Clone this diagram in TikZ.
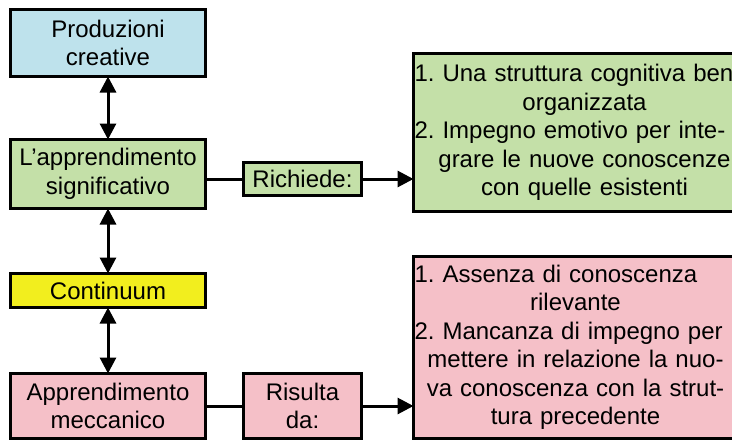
\documentclass[tikz,border=0pt]{standalone}
\usepackage{fontspec}
\setmainfont{Liberation Sans}
\usetikzlibrary{arrows.meta}

\definecolor{boxblue}{RGB}{190,226,236}
\definecolor{boxgreen}{RGB}{196,224,168}
\definecolor{boxyellow}{RGB}{242,238,30}
\definecolor{boxpink}{RGB}{245,192,200}

% numbered line, kept flush left in a centred box
\newcommand{\numline}[1]{\makebox[\linewidth][l]{#1}}
\frenchspacing

\begin{document}
\begin{tikzpicture}[x=1pt, y=-1pt,
    every node/.style={font=\fontsize{24}{28.5}\selectfont},
    box/.style={draw=black, line width=3pt, inner sep=0pt, outer sep=0pt, align=center},
    conn/.style={line width=3pt},
    tip/.style={line width=3pt, -{Triangle[length=16pt,width=16pt]}},
    both/.style={line width=3pt, {Triangle[length=16pt,width=16pt]}-{Triangle[length=16pt,width=16pt]}}]
  \useasboundingbox (0,0) rectangle (732,442);
  \clip (0,0) rectangle (732,442);

  % Left column
  \node[box, fill=boxblue, minimum width=195, minimum height=67] (prod) at (108,43) {Produzioni\\creative};
  \node[box, fill=boxgreen, minimum width=195, minimum height=69] (lapp) at (108,174) {L’apprendimento\\significativo};
  \node[box, fill=boxyellow, minimum width=195, minimum height=34] (cont) at (108,290.5) {Continuum};
  \node[box, fill=boxpink, minimum width=195, minimum height=65] (mecc) at (108,406) {Apprendimento\\meccanico};

  % Middle column
  \node[box, fill=boxgreen, minimum width=118, minimum height=33] (rich) at (302.5,179) {Richiede:};
  \node[box, fill=boxpink, minimum width=118, minimum height=65] (risu) at (302.5,406) {Risulta\\da:};

  % Right column
  \node[box, fill=boxgreen, anchor=west, inner xsep=1pt, text width=340, minimum height=158] (req) at (413.5,132.5)
    {\numline{1. Una struttura cognitiva ben}\\organizzata\\\numline{2. Impegno emotivo per inte-}\\grare le nuove conoscenze\\con quelle esistenti};
  \node[box, fill=boxpink, anchor=west, inner xsep=1pt, text width=322, minimum height=182] (abs) at (413.5,347.5)
    {\numline{1. Assenza di conoscenza}\\rilevante\hspace*{58pt}\\\numline{2. Mancanza di impegno per}\\mettere in relazione la nuo-\\va conoscenza con la strut-\\tura precedente};

  % Connectors
  \draw[both] (prod) -- (lapp);
  \draw[both] (lapp) -- (cont);
  \draw[both] (cont) -- (mecc);
  \draw[conn] (lapp.east |- rich.west) -- (rich.west);
  \draw[tip] (rich.east) -- (rich.east -| req.west);
  \draw[conn] (mecc) -- (risu);
  \draw[tip] (risu) -- (risu.east -| abs.west);
\end{tikzpicture}
\end{document}
